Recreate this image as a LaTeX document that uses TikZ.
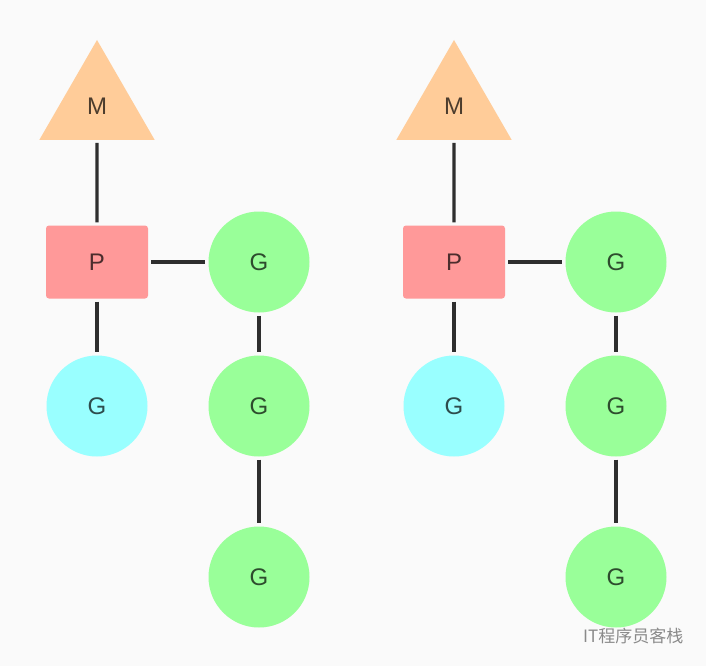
\documentclass[tikz,border=0pt]{standalone}
\usepackage{fontspec}
\setmainfont{Liberation Sans}
\newfontfamily\cjk{Noto Sans CJK SC}
\usetikzlibrary{shapes.geometric}
\definecolor{bgc}{HTML}{FAFAFA}
\definecolor{mcol}{HTML}{FFCC99}
\definecolor{pcol}{HTML}{FF9999}
\definecolor{gcol}{HTML}{99FF99}
\definecolor{ccol}{HTML}{99FFFF}
\definecolor{linec}{HTML}{2E2E2E}
\definecolor{wmc}{HTML}{8A8A8A}
\tikzset{
  lbl/.style={font=\fontsize{24}{28}\selectfont, text=black, text opacity=0.7},
  mnode/.style={lbl, regular polygon, regular polygon sides=3, minimum size=133pt, inner sep=0pt, fill=mcol},
  pnode/.style={lbl, rectangle, rounded corners=3pt, minimum width=102pt, minimum height=73pt, inner sep=0pt, fill=pcol},
  gnode/.style={lbl, circle, minimum size=101pt, inner sep=0pt, fill=gcol},
  cnode/.style={lbl, circle, minimum size=101pt, inner sep=0pt, fill=ccol},
  conn/.style={draw=linec, line width=3.2pt, shorten <=3pt, shorten >=3pt},
}
\begin{document}
\begin{tikzpicture}[x=1pt,y=-1pt]
\fill[bgc] (0,0) rectangle (706,666);
\useasboundingbox (0,0) rectangle (706,666);
% left group
\node[mnode] (m1) at (97,106.5) {M};
\node[pnode] (p1) at (97,262) {P};
\node[gnode] (g1) at (259,262) {G};
\node[cnode] (c1) at (97,406) {G};
\node[gnode] (g2) at (259,406) {G};
\node[gnode] (g3) at (259,577) {G};
\draw[conn] (m1.south) -- (p1.north);
\draw[conn] (p1.east) -- (g1.west);
\draw[conn] (p1.south) -- (c1.north);
\draw[conn] (g1.south) -- (g2.north);
\draw[conn] (g2.south) -- (g3.north);
% right group
\node[mnode] (m2) at (454,106.5) {M};
\node[pnode] (p2) at (454,262) {P};
\node[gnode] (h1) at (616,262) {G};
\node[cnode] (c2) at (454,406) {G};
\node[gnode] (h2) at (616,406) {G};
\node[gnode] (h3) at (616,577) {G};
\draw[conn] (m2.south) -- (p2.north);
\draw[conn] (p2.east) -- (h1.west);
\draw[conn] (p2.south) -- (c2.north);
\draw[conn] (h1.south) -- (h2.north);
\draw[conn] (h2.south) -- (h3.north);
% watermark
\node[font=\cjk\fontsize{17}{20}\selectfont, text=wmc, anchor=west, inner sep=0pt] (wm) at (583,636) {IT程序员客栈};
\end{tikzpicture}
\end{document}
